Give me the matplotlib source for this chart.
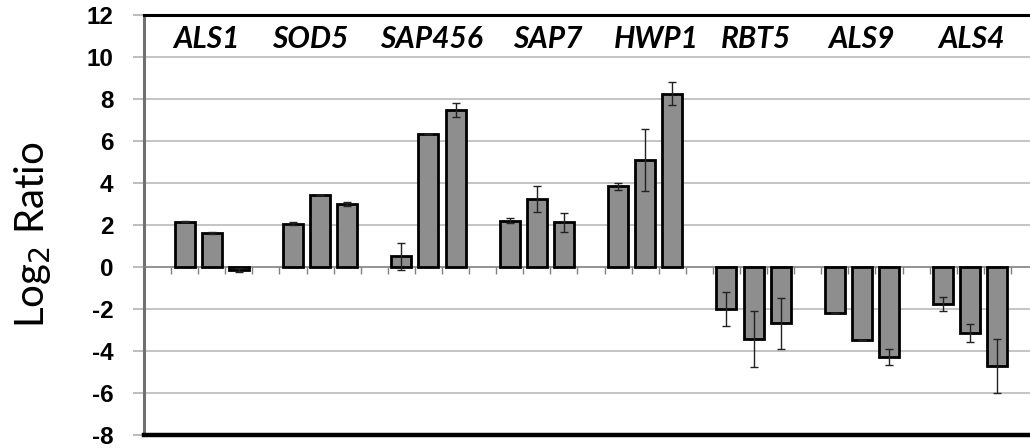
import numpy as np
import matplotlib
matplotlib.use("Agg")
import matplotlib.pyplot as plt

plt.rcParams["axes.unicode_minus"] = False

# log2 ratios, 3 bars per gene
genes = ["ALS1", "SOD5", "SAP456", "SAP7", "HWP1", "RBT5", "ALS9", "ALS4"]
ratios = [
    [2.16, 1.60, -0.15],
    [2.05, 3.43, 3.00],
    [0.50, 6.32, 7.48],
    [2.20, 3.22, 2.13],
    [3.83, 5.08, 8.24],
    [-2.00, -3.42, -2.68],
    [-2.17, -3.46, -4.30],
    [-1.76, -3.14, -4.72],
]
errors = [
    [0.03, 0.04, 0.08],
    [0.07, 0.00, 0.10],
    [0.65, 0.00, 0.33],
    [0.12, 0.62, 0.45],
    [0.17, 1.48, 0.55],
    [0.80, 1.33, 1.22],
    [0.00, 0.00, 0.39],
    [0.35, 0.44, 1.29],
]
# small horizontal nudges of the gene names (in bar slots)
label_shift = [-0.18, -0.37, 0.11, 0.4, 0.4, 0.1, 0.0, 0.05]

YMIN, YMAX = -8, 12

fig = plt.figure(figsize=(10.3, 4.48), dpi=100)
# axes deliberately runs past the right edge, like the cropped original
ax = fig.add_axes([0.1398, 0.029, 0.868, 0.938])

vals = np.array(ratios).ravel()
errs = np.array(errors).ravel()
slots = np.array([4 * g + k for g in range(len(genes)) for k in (1, 2, 3)])

for y in np.arange(YMIN + 2, YMAX, 2):
    if y != 0:
        ax.axhline(y, color="#c4c4c4", lw=1.4, zorder=0)

ax.bar(slots, vals, width=0.74, color="#8e8e8e", edgecolor="black",
       linewidth=2, zorder=3)
ax.errorbar(slots, vals, yerr=errs, fmt="none", ecolor="#222222",
            elinewidth=1, capsize=3, capthick=1, zorder=4)

# zero line carries the category tick marks
ax.spines["bottom"].set_position(("data", 0))
ax.spines["bottom"].set_color("#808080")
ax.spines["bottom"].set_linewidth(1.2)
ax.set_xticks(np.arange(-0.5, 4 * len(genes) + 1, 1))
ax.tick_params(axis="x", direction="out", length=5, width=1,
               color="#808080", labelbottom=False)

ax.spines["left"].set_color("#707070")
ax.spines["left"].set_linewidth(2.2)
ax.spines["top"].set_color("black")
ax.spines["top"].set_linewidth(2.2)
ax.spines["right"].set_visible(False)
ax.axhline(YMIN, color="black", lw=3.2, clip_on=False, zorder=5)

ax.set_xlim(-0.5, 4 * len(genes) + 0.5)
ax.set_ylim(YMIN, YMAX)
ax.set_yticks(np.arange(YMIN, YMAX + 1, 2))
ax.tick_params(axis="y", direction="out", length=8, width=1.2,
               color="#b0b0b0", pad=14)
for t in ax.get_yticklabels():
    t.set_fontfamily("Liberation Sans")
    t.set_fontweight("bold")
    t.set_fontsize(17.5)

for g, name in enumerate(genes):
    ax.text(4 * g + 2 + label_shift[g], 10.2, name, ha="center",
            va="bottom", fontfamily="Lato", fontstyle="italic",
            fontweight="bold", fontsize=21.5, zorder=6)

ax.set_ylabel("Log$_2$ Ratio", fontfamily="Lato", fontsize=29)
ax.yaxis.set_label_coords(-0.102, 0.476)

fig.savefig("out.png", dpi=100, facecolor="white")
